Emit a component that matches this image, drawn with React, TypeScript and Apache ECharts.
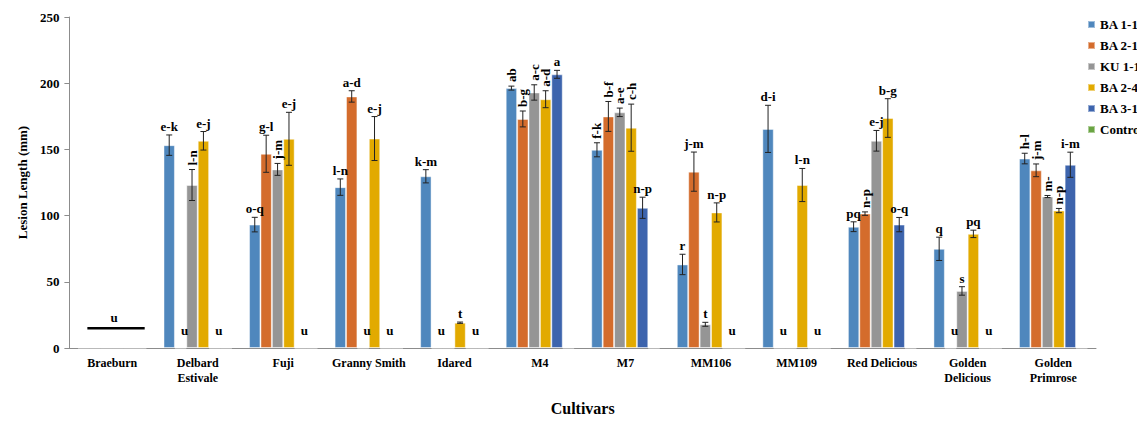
import React, { useEffect, useRef } from 'react';
import * as echarts from 'echarts';

const categories = [
  'Braeburn', 'Delbard\nEstivale', 'Fuji', 'Granny Smith', 'Idared', 'M4', 'M7',
  'MM106', 'MM109', 'Red Delicious', 'Golden\nDelicious', 'Golden\nPrimrose',
];
const seriesNames = ['BA 1-1', 'BA 2-1', 'KU 1-1', 'BA 2-4', 'BA 3-1', 'Control'];
const colors = ['#4f87bd', '#d46c2c', '#959595', '#e2aa00', '#3d64ad', '#6aa443'];

const ba11Values = [0, 153.2, 93.2, 121.5, 129.7, 196.3, 149.7, 63.1, 165.5, 91.6, 74.9, 143.1];
const ba11Errors = [0, 7.7, 5.5, 6.2, 5, 1.5, 5.3, 7.7, 17.8, 3.7, 8.8, 4];
const ba11Letters = ['', 'e-k', 'o-q', 'l-n', 'k-m', 'ab', 'f-k', 'r', 'd-i', 'pq', 'q', 'h-l'];

const ba21Values = [0, 0, 146.7, 190, 0, 173, 174.9, 133.2, 0, 101.5, 0, 134.2];
const ba21Errors = [0, 0, 14, 4.3, 0, 6, 11.3, 14.8, 0, 1.3, 0, 4.8];
const ba21Letters = ['', 'u', 'g-l', 'a-d', 'u', 'b-g', 'b-f', 'j-m', 'u', 'n-p', 'u', 'j-m'];

const ku11Values = [0, 123.1, 134.9, 0, 0, 193, 178, 17.9, 0, 156.5, 43.1, 114.4];
const ku11Errors = [0, 11.7, 4.5, 0, 0, 5.8, 3.2, 1.5, 0, 7.8, 3.2, 0.8];
const ku11Letters = ['', 'l-n', 'j-m', 'u', '', 'a-c', 'a-e', 't', '', 'e-j', 's', 'm-'];

const ba24Values = [0, 156.5, 158, 158.2, 19.1, 187.9, 166.4, 102.4, 123.1, 173.7, 86.2, 103.8];
const ba24Errors = [0, 7, 20, 16.6, 0.5, 6.4, 17.8, 7.2, 12.5, 14.6, 2.8, 1.6];
const ba24Letters = ['', 'e-j', 'e-j', 'e-j', 't', 'a-d', 'c-h', 'n-p', 'l-n', 'b-g', 'pq', 'n-p'];

const ba31Values = [0, 0, 0, 0, 0, 206.7, 105.9, 0, 0, 93.2, 0, 138.4];
const ba31Errors = [0, 0, 0, 0, 0, 3, 8, 0, 0, 5.4, 0, 9.5];
const ba31Letters = ['', 'u', 'u', 'u', 'u', 'a', 'n-p', 'u', 'u', 'o-q', 'u', 'i-m'];

const controlValues = [0, 0, 0, 0, 0, 0, 0, 0, 0, 0, 0, 0];

// Braeburn shows a single horizontal marker with its letter
const braeburnMarkerValue = 15;
const braeburnMarkerLetter = 'u';

// letters written vertically: "categoryIndex/seriesName"
const verticalLetters = [
  '1/KU 1-1', '2/KU 1-1',
  '5/BA 1-1', '5/BA 2-1', '5/KU 1-1', '5/BA 2-4',
  '6/BA 1-1', '6/BA 2-1', '6/KU 1-1', '6/BA 2-4',
  '9/BA 2-1',
  '11/BA 1-1', '11/BA 2-1', '11/KU 1-1', '11/BA 2-4',
];

const FONT = '"Liberation Serif", "Times New Roman", serif';

const seriesValues = [ba11Values, ba21Values, ku11Values, ba24Values, ba31Values, controlValues];
const seriesErrors = [ba11Errors, ba21Errors, ku11Errors, ba24Errors, ba31Errors];
const seriesLetters = [ba11Letters, ba21Letters, ku11Letters, ba24Letters, ba31Letters];

type Mark = { kind: 'bar' | 'marker'; cat: number; s: number; value: number; err: number; letter: string; vertical: boolean };

const marks: Mark[] = [];
seriesErrors.forEach((errs, s) => {
  errs.forEach((err, cat) => {
    marks.push({
      kind: 'bar',
      cat,
      s,
      value: seriesValues[s][cat],
      err,
      letter: seriesLetters[s][cat],
      vertical: verticalLetters.includes(`${cat}/${seriesNames[s]}`),
    });
  });
});
marks.push({ kind: 'marker', cat: 0, s: 0, value: braeburnMarkerValue, err: 0, letter: braeburnMarkerLetter, vertical: false });

export default function App() {
  const ref = useRef<HTMLDivElement>(null);

  useEffect(() => {
    if (!ref.current) return;
    const chart = echarts.init(ref.current, undefined, { renderer: 'svg' });

    const barSeries = seriesNames.map((name, i) => ({
      name,
      type: 'bar',
      data: seriesValues[i],
      barGap: '0%',
      barCategoryGap: '20%',
      itemStyle: { color: colors[i], borderColor: 'rgba(255,255,255,0.45)', borderWidth: 1 },
      silent: true,
    }));

    const customSeries = {
      type: 'custom',
      coordinateSystem: 'cartesian2d',
      silent: true,
      z: 10,
      data: marks.map((m) => [m.cat, m.value + m.err]),
      encode: { x: 0, y: 1 },
      renderItem: (params: any, api: any) => {
        const m = marks[params.dataIndex];
        const band = api.size([1, 0])[0];
        const slot = (band * 0.8) / 6;
        const base = api.coord([m.cat, 0]);
        const cx = base[0];
        const axisY = base[1];
        const children: any[] = [];
        const textStyle = {
          fill: '#000',
          fontFamily: FONT,
          fontWeight: 'bold',
          fontSize: 13,
        };
        if (m.kind === 'marker') {
          const y = api.coord([m.cat, m.value])[1];
          children.push({
            type: 'line',
            shape: { x1: cx - band * 0.29, y1: y, x2: cx + band * 0.38, y2: y },
            style: { stroke: '#000', lineWidth: 2.5 },
          });
          children.push({
            type: 'text',
            x: cx + 2,
            y: y - 4,
            style: { ...textStyle, text: m.letter, align: 'center', verticalAlign: 'bottom' },
          });
          return { type: 'group', children };
        }
        const x = cx + (m.s - 2.5) * slot;
        if (m.value > 0) {
          const topY = api.coord([m.cat, m.value + m.err])[1];
          const botY = api.coord([m.cat, m.value - m.err])[1];
          if (m.err > 0) {
            children.push({ type: 'line', shape: { x1: x, y1: topY, x2: x, y2: botY }, style: { stroke: '#222', lineWidth: 1 } });
            children.push({ type: 'line', shape: { x1: x - 3, y1: topY, x2: x + 3, y2: topY }, style: { stroke: '#222', lineWidth: 1 } });
            children.push({ type: 'line', shape: { x1: x - 3, y1: botY, x2: x + 3, y2: botY }, style: { stroke: '#222', lineWidth: 1 } });
          }
          if (m.letter) {
            if (m.vertical) {
              children.push({
                type: 'text',
                x,
                y: topY - 4,
                rotation: Math.PI / 2,
                style: { ...textStyle, text: m.letter, align: 'left', verticalAlign: 'middle' },
              });
            } else {
              children.push({
                type: 'text',
                x,
                y: topY - 2,
                style: { ...textStyle, text: m.letter, align: 'center', verticalAlign: 'bottom' },
              });
            }
          }
        } else if (m.letter) {
          children.push({
            type: 'text',
            x: x + 4,
            y: axisY - 18,
            style: { ...textStyle, text: m.letter, align: 'center', verticalAlign: 'middle' },
          });
        }
        return { type: 'group', children };
      },
    };

    chart.setOption({
      animation: false,
      grid: { left: 47, right: 49, top: 9, bottom: 50, containLabel: false },
      legend: {
        data: seriesNames,
        orient: 'vertical',
        left: 1074,
        top: 5,
        itemWidth: 7,
        itemHeight: 7,
        itemGap: 8,
        icon: 'rect',
        selectedMode: false,
        textStyle: { fontFamily: FONT, fontWeight: 'bold', fontSize: 13, color: '#000' },
      },
      xAxis: {
        type: 'category',
        data: categories,
        name: 'Cultivars',
        nameLocation: 'middle',
        nameGap: 52,
        nameTextStyle: { fontFamily: FONT, fontWeight: 'bold', fontSize: 16, color: '#000' },
        axisLine: { lineStyle: { color: '#8c8c8c' } },
        axisTick: { show: false },
        axisLabel: {
          interval: 0,
          margin: 7,
          lineHeight: 15,
          fontFamily: FONT,
          fontWeight: 'bold',
          fontSize: 12,
          color: '#000',
        },
      },
      yAxis: {
        type: 'value',
        min: 0,
        max: 250,
        interval: 50,
        name: 'Lesion Length (mm)',
        nameLocation: 'middle',
        nameGap: 37,
        nameTextStyle: { fontFamily: FONT, fontWeight: 'bold', fontSize: 13, color: '#000' },
        splitLine: { show: false },
        axisLine: { show: true, lineStyle: { color: '#8c8c8c' } },
        axisTick: { show: true, length: 5, lineStyle: { color: '#8c8c8c' } },
        axisLabel: { margin: 10, fontFamily: FONT, fontWeight: 'bold', fontSize: 13, color: '#000' },
      },
      series: [...barSeries, customSeries],
    });

    return () => chart.dispose();
  }, []);

  return <div ref={ref} style={{ width: 1137, height: 413 }} />;
}
